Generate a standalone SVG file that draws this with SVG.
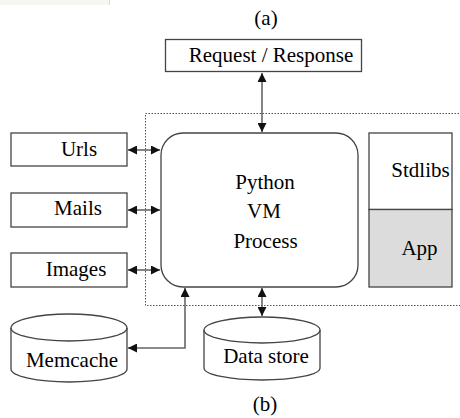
<svg xmlns="http://www.w3.org/2000/svg" width="460" height="418" viewBox="0 0 460 418">
<style>
text{font-family:"Liberation Serif","Times New Roman",serif;font-size:21px;fill:#000;text-anchor:middle}
.box{fill:#fff;stroke:#444;stroke-width:1.3}
.conn{fill:none;stroke:#666;stroke-width:1.6}
.dot{fill:none;stroke:#555;stroke-width:1;stroke-dasharray:1.5 1.5}
</style>
<defs>
<marker id="ah" viewBox="0 0 10 10" refX="10" refY="5" markerWidth="9" markerHeight="9" markerUnits="userSpaceOnUse" orient="auto-start-reverse">
<path d="M0,0 L10,5 L0,10 Z" fill="#111"/>
</marker>
</defs>
<rect x="0" y="0" width="109" height="5" fill="#f6f6f3"/>
<line x1="109.5" y1="0" x2="109.5" y2="5" stroke="#ddd"/>
<text x="266" y="25">(a)</text>
<text x="265" y="411">(b)</text>
<rect class="dot" x="145.5" y="113.5" width="330" height="192"/>
<g id="connectors">
<line class="conn" x1="262" y1="73" x2="262" y2="132" marker-start="url(#ah)" marker-end="url(#ah)"/>
<line class="conn" x1="128" y1="150" x2="160" y2="150" marker-start="url(#ah)" marker-end="url(#ah)"/>
<line class="conn" x1="128" y1="210" x2="160" y2="210" marker-start="url(#ah)" marker-end="url(#ah)"/>
<line class="conn" x1="128" y1="270" x2="160" y2="270" marker-start="url(#ah)" marker-end="url(#ah)"/>
<line class="conn" x1="262" y1="288" x2="262" y2="316" marker-start="url(#ah)" marker-end="url(#ah)"/>
<path class="conn" d="M185,288 L185,348 L128,348" marker-start="url(#ah)" marker-end="url(#ah)"/>
</g>
<g id="request">
<rect class="box" x="165.5" y="39.5" width="196" height="32"/>
<text x="271" y="62">Request / Response</text>
</g>
<g id="urls">
<rect class="box" x="11" y="133" width="116" height="33"/>
<text x="79" y="156">Urls</text>
</g>
<g id="mails">
<rect class="box" x="11" y="193" width="116" height="34"/>
<text x="78" y="215">Mails</text>
</g>
<g id="images">
<rect class="box" x="11" y="253" width="116" height="34"/>
<text x="76" y="276">Images</text>
</g>
<g id="python">
<rect class="box" x="161" y="133" width="197" height="154" rx="22" ry="22"/>
<text x="265" y="189">Python</text>
<text x="264" y="218">VM</text>
<text x="265.5" y="248">Process</text>
</g>
<g id="stdlibs">
<rect class="box" x="369" y="133" width="83" height="76.5"/>
<text x="420.5" y="177">Stdlibs</text>
</g>
<g id="app">
<rect x="369" y="209.5" width="83" height="77.5" fill="#dcdcdc" stroke="#444" stroke-width="1.3"/>
<text x="419.5" y="255">App</text>
</g>
<g id="memcache">
<path class="box" d="M11,328 A58,14 0 0 1 127,328 L127,369 A58,13 0 0 1 11,369 Z"/>
<path fill="none" stroke="#444" stroke-width="1.3" d="M11,328 A58,13 0 0 0 127,328"/>
<text x="72" y="367">Memcache</text>
</g>
<g id="datastore">
<path class="box" d="M204,330 A58,13 0 0 1 320,330 L320,368 A58,12 0 0 1 204,368 Z"/>
<path fill="none" stroke="#444" stroke-width="1.3" d="M204,330 A58,13 0 0 0 320,330"/>
<text x="266" y="363">Data store</text>
</g>
</svg>
